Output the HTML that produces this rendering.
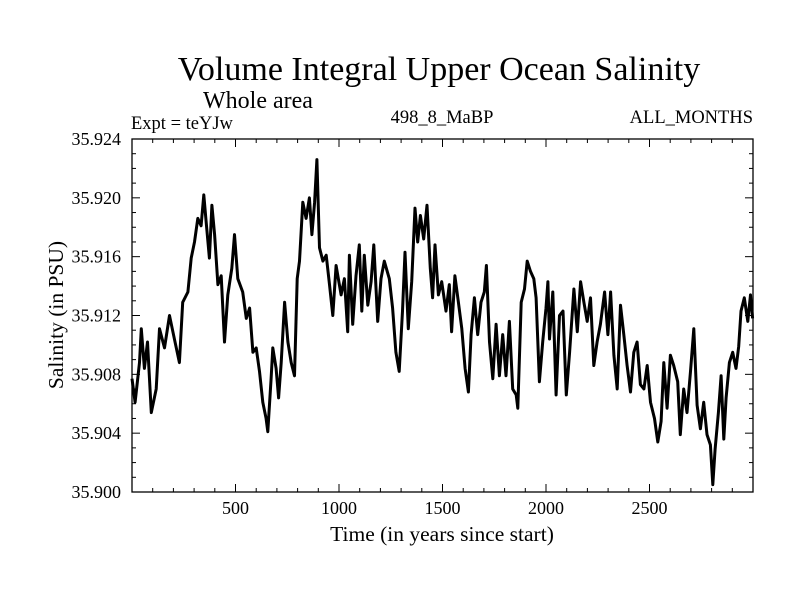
<!DOCTYPE html>
<html><head><meta charset="utf-8"><style>
body{margin:0;background:#fff}
svg text{font-family:"Liberation Serif",serif;fill:#000}
</style></head><body>
<svg id="chart" width="800" height="600" xmlns="http://www.w3.org/2000/svg">
<rect width="800" height="600" fill="#fff"/>
<text x="439" y="80" font-size="34" text-anchor="middle">Volume Integral Upper Ocean Salinity</text>
<text x="203" y="108" font-size="24">Whole area</text>
<text x="131" y="129" font-size="18.5">Expt = teYJw</text>
<text x="442" y="123" font-size="18.5" text-anchor="middle">498_8_MaBP</text>
<text x="753" y="123" font-size="18.5" text-anchor="end">ALL_MONTHS</text>
<text x="442" y="541" font-size="21.5" text-anchor="middle">Time (in years since start)</text>
<text x="0" y="0" font-size="21.5" text-anchor="middle" transform="translate(63,315) rotate(-90)">Salinity (in PSU)</text>
<g id="axes"></g>
<path id="series" fill="none" stroke="#000" stroke-width="3" stroke-linejoin="round"/>
<rect x="132" y="139" width="621" height="353" fill="none" stroke="#000" stroke-width="1.3"/>
</svg>
<script>
const years=[0,15,36,45,60,75,93,117,133,157,181,205,229,245,270,286,302,318,334,347,358,374,386,399,415,431,447,463,482,495,511,535,552,568,584,600,616,632,648,656,672,680,696,708,721,737,753,769,785,798,809,825,841,857,869,882,893,906,922,938,954,970,986,1010,1026,1042,1050,1066,1082,1098,1110,1122,1139,1155,1168,1187,1203,1219,1243,1259,1275,1291,1307,1319,1335,1351,1367,1380,1393,1409,1425,1441,1452,1464,1480,1496,1517,1533,1544,1560,1577,1593,1609,1625,1638,1654,1670,1686,1702,1712,1727,1743,1759,1775,1791,1807,1823,1839,1856,1864,1880,1896,1909,1925,1941,1952,1968,1984,2000,2009,2017,2033,2049,2065,2082,2098,2114,2135,2151,2167,2183,2199,2215,2231,2247,2263,2283,2299,2312,2328,2344,2360,2376,2392,2408,2424,2440,2456,2473,2489,2505,2524,2540,2556,2569,2585,2601,2617,2636,2649,2665,2681,2698,2714,2730,2746,2762,2778,2794,2806,2817,2833,2846,2859,2870,2886,2902,2918,2931,2942,2958,2975,2988,2998];
const salinity=[35.9077,35.9061,35.9088,35.9111,35.9084,35.9102,35.9054,35.9070,35.9111,35.9098,35.9120,35.9104,35.9088,35.9129,35.9136,35.9159,35.9170,35.9186,35.9181,35.9202,35.9184,35.9159,35.9195,35.9175,35.9141,35.9147,35.9102,35.9134,35.9152,35.9175,35.9145,35.9136,35.9118,35.9125,35.9095,35.9098,35.9082,35.9061,35.9050,35.9041,35.9077,35.9098,35.9084,35.9064,35.9088,35.9129,35.9102,35.9088,35.9079,35.9145,35.9157,35.9197,35.9186,35.9200,35.9175,35.9197,35.9226,35.9166,35.9157,35.9161,35.9141,35.9120,35.9154,35.9134,35.9145,35.9109,35.9161,35.9114,35.9147,35.9168,35.9123,35.9161,35.9127,35.9143,35.9168,35.9116,35.9145,35.9157,35.9145,35.9125,35.9095,35.9082,35.9123,35.9163,35.9111,35.9143,35.9193,35.9170,35.9188,35.9172,35.9195,35.9152,35.9132,35.9168,35.9134,35.9143,35.9123,35.9141,35.9109,35.9147,35.9129,35.9111,35.9084,35.9068,35.9107,35.9132,35.9107,35.9129,35.9136,35.9154,35.9102,35.9077,35.9114,35.9079,35.9107,35.9079,35.9116,35.9070,35.9066,35.9057,35.9129,35.9138,35.9157,35.9150,35.9145,35.9132,35.9075,35.9102,35.9125,35.9143,35.9104,35.9136,35.9066,35.9120,35.9123,35.9066,35.9095,35.9138,35.9109,35.9143,35.9129,35.9116,35.9132,35.9086,35.9102,35.9114,35.9136,35.9107,35.9136,35.9093,35.9070,35.9127,35.9107,35.9086,35.9068,35.9095,35.9102,35.9073,35.9070,35.9086,35.9061,35.9050,35.9034,35.9048,35.9088,35.9057,35.9093,35.9086,35.9075,35.9039,35.9070,35.9054,35.9082,35.9111,35.9059,35.9043,35.9061,35.9039,35.9032,35.9005,35.9029,35.9054,35.9079,35.9036,35.9064,35.9088,35.9095,35.9084,35.9099,35.9123,35.9132,35.9116,35.9134,35.9118];
const xTicks=[500,1000,1500,2000,2500];
const yTicks=["35.900","35.904","35.908","35.912","35.916","35.920","35.924"];
const X0=132,X1=753,Y0=492,Y1=139,tMin=0,tMax=3000,sMin=35.9,sMax=35.924;
const sx=t=>X0+(t-tMin)/(tMax-tMin)*(X1-X0);
const sy=v=>Y0-(v-sMin)/(sMax-sMin)*(Y0-Y1);
const NS="http://www.w3.org/2000/svg";
const ax=document.getElementById('axes');
function line(x1,y1,x2,y2){const l=document.createElementNS(NS,'line');l.setAttribute('x1',x1);l.setAttribute('y1',y1);l.setAttribute('x2',x2);l.setAttribute('y2',y2);l.setAttribute('stroke','#000');l.setAttribute('stroke-width','1');


ax.appendChild(l);}
function txt(x,y,s,anchor){const t=document.createElementNS(NS,'text');t.setAttribute('x',x);t.setAttribute('y',y);t.setAttribute('font-size','18');t.setAttribute('text-anchor',anchor);t.textContent=s;


ax.appendChild(t);}
for(let t=100;t<3000;t+=100){const major=t%500===0;const L=major?8:4;const x=sx(t);line(x,Y0,x,Y0-L);line(x,Y1,x,Y1+L);}
xTicks.forEach(t=>txt(sx(t),514,String(t),'middle'));
for(let k=0;k<=24;k++){const v=sMin+k*0.001;const major=k%4===0;const L=major?8:4;const y=sy(v);line(X0,y,X0+L,y);line(X1,y,X1-L,y);}
yTicks.forEach(s=>txt(121,sy(parseFloat(s))+6,s,'end'));
let d='';years.forEach((t,i)=>{d+=(i?'L':'M')+sx(t).toFixed(1)+' '+sy(salinity[i]).toFixed(1);});
document.getElementById('series').setAttribute('d',d);
</script>
</body></html>
